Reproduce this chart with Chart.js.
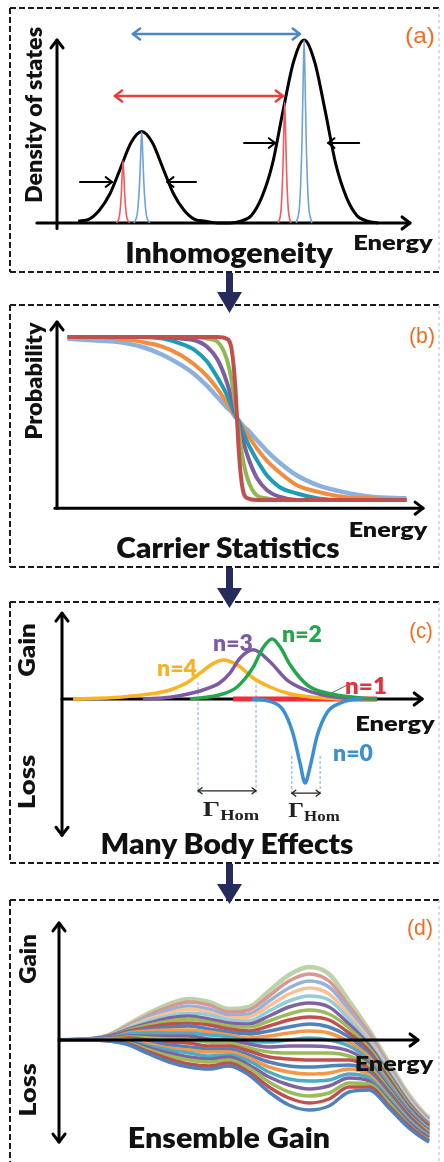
<!DOCTYPE html>
<html>
<head>
<meta charset="utf-8">
<script src="https://cdn.jsdelivr.net/npm/chart.js@4.4.1/dist/chart.umd.min.js"></script>
<style>
  html, body { margin: 0; padding: 0; background: #fff; }
  #page { position: relative; width: 444px; height: 1162px; overflow: hidden; }
  #page canvas { position: absolute; left: 0; }
  .lbl { position: absolute; white-space: nowrap; font-family: Lato, "Noto Sans", sans-serif; font-weight: 800; color: #111; line-height: 1; }
  .tag { font-family: "Liberation Sans", Arial, sans-serif; font-weight: 400; color: #f26b21; }
  .gam { font-family: "Liberation Serif", "DejaVu Serif", serif; font-weight: 700; color: #222; }
  .gam span { font-size: 0.68em; position: relative; top: 0.3em; }
</style>
</head>
<body>
<div id="page">
  <svg width="444" height="1162" style="position:absolute;left:0;top:0">
    <g stroke="#1b1b1b" stroke-width="2" stroke-dasharray="6 3" fill="none">
      <path d="M10 8 H440 M10 8 V272 M10 272 H440"/>
      <path d="M10 305 H440 M10 305 V567 M10 567 H440"/>
      <path d="M10 602 H440 M10 602 V863 M10 863 H440"/>
      <path d="M10 900 H440 M10 900 V1162"/>
    </g>
    <g stroke="#cfcfcf" stroke-width="1.5" stroke-dasharray="3 3" fill="none">
      <path d="M439 8 V272 M439 305 V567 M439 602 V863 M439 900 V1162"/>
    </g>
    <g fill="#262b5b">
      <rect x="226" y="273" width="7" height="21"/><polygon points="217,292 242,292 229.5,313"/>
      <rect x="226" y="568" width="7" height="22"/><polygon points="217,588 242,588 229.5,608"/>
      <rect x="226" y="864" width="7" height="22"/><polygon points="217,884 242,884 229.5,904"/>
    </g>
  </svg>
  <canvas id="chartA" width="444" height="280" style="top:0px"></canvas>
  <canvas id="chartB" width="444" height="280" style="top:290px"></canvas>
  <canvas id="chartC" width="444" height="280" style="top:590px"></canvas>
  <canvas id="chartD" width="444" height="272" style="top:890px"></canvas>
</div>
<script>
// --- (a) density of states ---
const dosX = [0.6, 0.9, 1.2, 1.5, 1.8, 2.1, 2.4, 2.7, 3.0, 3.3, 3.6, 3.9, 4.2, 4.55, 4.9, 5.2, 5.5, 5.8, 6.1, 6.4, 6.7, 7.0, 7.3, 7.6, 7.9, 8.2, 8.5, 8.8, 9.1];
const dosY = [0.01, 0.02, 0.07, 0.16, 0.30, 0.44, 0.50, 0.44, 0.30, 0.16, 0.07, 0.02, 0.01, 0, 0, 0.01, 0.04, 0.14, 0.32, 0.61, 0.88, 1.0, 0.88, 0.61, 0.32, 0.14, 0.04, 0.01, 0];
const redLine1X = [1.69, 1.77, 1.82, 1.845, 1.87, 1.895, 1.92, 1.97, 2.05];
const redLine1Y = [0, 0.04, 0.15, 0.26, 0.34, 0.26, 0.15, 0.04, 0];
const blueLine1X = [2.18, 2.28, 2.34, 2.37, 2.4, 2.43, 2.46, 2.52, 2.62];
const blueLine1Y = [0, 0.06, 0.22, 0.37, 0.5, 0.37, 0.22, 0.06, 0];
const redLine2X = [6.27, 6.35, 6.40, 6.425, 6.45, 6.475, 6.50, 6.55, 6.63];
const redLine2Y = [0, 0.08, 0.3, 0.5, 0.66, 0.5, 0.3, 0.08, 0];
const blueLine2X = [6.78, 6.88, 6.94, 6.97, 7.0, 7.03, 7.06, 7.12, 7.22];
const blueLine2Y = [0, 0.12, 0.45, 0.75, 1.0, 0.75, 0.45, 0.12, 0];

// --- (b) occupation probability ---
const probX = [0.3, 1.0, 1.7, 2.4, 3.0, 3.5, 3.9, 4.25, 4.55, 4.8, 4.95, 5.05, 5.1, 5.15, 5.25, 5.4, 5.65, 5.95, 6.3, 6.8, 7.4, 8.1, 8.9, 9.9];
const probRed    = [1, 1, 1, 1, 1, 1, 1, 1, 1, 0.99, 0.92, 0.70, 0.5, 0.30, 0.08, 0.01, 0, 0, 0, 0, 0, 0, 0, 0];
const probGreen  = [1, 1, 1, 1, 1, 1, 1, 0.99, 0.97, 0.87, 0.73, 0.58, 0.5, 0.42, 0.27, 0.13, 0.03, 0.01, 0, 0, 0, 0, 0, 0];
const probPurple = [1, 1, 1, 1, 1, 0.99, 0.98, 0.94, 0.86, 0.73, 0.62, 0.54, 0.5, 0.46, 0.38, 0.27, 0.14, 0.06, 0.02, 0, 0, 0, 0, 0];
const probTeal   = [1, 1, 1, 1, 0.99, 0.96, 0.92, 0.85, 0.75, 0.65, 0.57, 0.52, 0.5, 0.48, 0.43, 0.35, 0.25, 0.15, 0.08, 0.04, 0.01, 0, 0, 0];
const probOrange = [1, 1, 0.99, 0.97, 0.94, 0.89, 0.83, 0.76, 0.68, 0.60, 0.55, 0.52, 0.5, 0.48, 0.45, 0.40, 0.32, 0.24, 0.17, 0.09, 0.05, 0.02, 0.01, 0];
const probBlue   = [0.99, 0.98, 0.97, 0.94, 0.89, 0.83, 0.77, 0.70, 0.63, 0.57, 0.54, 0.51, 0.5, 0.49, 0.46, 0.43, 0.37, 0.30, 0.23, 0.15, 0.09, 0.05, 0.02, 0.01];

// --- (c) many body gain per carrier number ---
const n4X = [0.31, 1.62, 2.54, 3.02, 3.49, 3.85, 4.22, 4.50, 4.89, 5.34, 5.81, 6.28, 6.73, 7.21, 8.13, 8.80];
const n4Y = [0, 0.03, 0.09, 0.15, 0.27, 0.43, 0.59, 0.65, 0.57, 0.35, 0.20, 0.10, 0.05, 0.02, 0, 0];
const n3X = [2.26, 3.02, 3.49, 3.94, 4.41, 4.69, 4.97, 5.34, 5.81, 6.28, 6.73, 7.21, 7.68, 8.13, 8.80];
const n3Y = [0, 0.03, 0.08, 0.15, 0.27, 0.43, 0.68, 0.82, 0.62, 0.32, 0.17, 0.08, 0.03, 0.01, 0];
const n2X = [3.58, 4.41, 4.89, 5.34, 5.61, 5.87, 6.09, 6.37, 6.65, 6.93, 7.40, 7.96, 8.52, 8.80];
const n2Y = [0, 0.07, 0.20, 0.53, 0.85, 1.0, 0.87, 0.57, 0.35, 0.20, 0.10, 0.04, 0.01, 0];
const n1X = [4.78, 8.80];
const n1Y = [0, 0];
const n0X = [5.31, 5.81, 6.17, 6.45, 6.65, 6.79, 6.93, 7.12, 7.40, 7.77, 8.13, 8.41];
const n0Y = [0, -0.04, -0.18, -0.57, -1.07, -1.40, -1.13, -0.63, -0.23, -0.07, -0.01, 0];

// --- (d) ensemble gain, one row per curve (bottom to top) ---
const ensembleX = [0, 1.5, 2.5, 3.5, 4.5, 5.5, 6.5, 7.5, 8.5, 9.5, 10.5, 11.5, 12.5, 13.5, 14.5, 15.5, 16.5, 17.5, 18.5, 19.2];
const ensembleGain = [
  [0, 0, -1, -5, -14, -22, -27, -29, -26, -35, -52, -65, -70, -66, -52, -50, -68, -88, -102, -107],
  [0, 0, -1, -4, -12, -19, -24, -26, -23, -32, -47, -58, -63, -59, -47, -47, -66, -86, -101, -106],
  [0, 0, 0, -3, -10, -16, -20, -22, -20, -28, -42, -52, -56, -53, -43, -44, -63, -85, -100, -105],
  [0, 0, 0, -2, -8, -13, -17, -19, -17, -25, -37, -45, -49, -46, -38, -41, -61, -83, -98, -104],
  [0, 0, 0, -1, -6, -10, -13, -16, -15, -21, -32, -39, -41, -40, -34, -38, -59, -81, -97, -103],
  [0, 0, 1, 0, -4, -8, -10, -12, -12, -18, -27, -32, -34, -33, -29, -35, -57, -80, -96, -101],
  [0, 0, 1, 1, -2, -5, -7, -9, -9, -15, -22, -26, -27, -26, -25, -32, -54, -78, -95, -100],
  [0, 0, 1, 2, 0, -2, -3, -6, -6, -11, -17, -19, -20, -20, -20, -29, -52, -76, -94, -99],
  [0, 0, 1, 3, 2, 1, 0, -2, -3, -8, -12, -13, -13, -13, -16, -26, -50, -75, -92, -98],
  [0, 0, 2, 4, 4, 4, 4, 1, 0, -4, -7, -6, -6, -7, -11, -23, -48, -73, -91, -97],
  [0, 1, 2, 6, 7, 7, 7, 5, 3, -1, -2, 0, 2, 0, -6, -20, -45, -71, -90, -96],
  [0, 1, 2, 7, 9, 10, 10, 8, 5, 2, 4, 7, 9, 7, -2, -17, -43, -70, -89, -95],
  [0, 1, 3, 8, 11, 13, 14, 11, 8, 6, 9, 13, 16, 13, 3, -14, -41, -68, -88, -94],
  [0, 1, 3, 9, 13, 16, 17, 15, 11, 9, 14, 20, 23, 20, 7, -11, -39, -67, -86, -93],
  [0, 1, 3, 10, 15, 19, 21, 18, 14, 13, 19, 26, 30, 26, 12, -8, -36, -65, -85, -92],
  [0, 1, 4, 11, 17, 22, 24, 21, 17, 16, 24, 33, 37, 33, 16, -5, -34, -63, -84, -90],
  [0, 1, 4, 12, 19, 24, 27, 25, 20, 19, 29, 39, 44, 40, 21, -2, -32, -62, -83, -89],
  [0, 1, 4, 13, 21, 27, 31, 28, 22, 23, 34, 46, 52, 46, 25, 1, -30, -60, -82, -88],
  [0, 1, 4, 14, 23, 30, 34, 31, 25, 26, 39, 52, 59, 53, 30, 4, -27, -58, -80, -87],
  [0, 1, 5, 15, 25, 33, 38, 35, 28, 30, 44, 59, 66, 59, 34, 7, -25, -57, -79, -86],
  [0, 1, 5, 16, 27, 36, 41, 38, 31, 33, 49, 65, 73, 66, 39, 10, -23, -55, -78, -85]
];
const ensembleColors = ["#4f81bd", "#c0504d", "#9bbb59", "#8064a2", "#4bacc6", "#f79646",
                        "#4f81bd", "#c0504d", "#9bbb59", "#8064a2", "#4bacc6", "#f79646",
                        "#4f81bd", "#c0504d", "#9bbb59", "#8064a2", "#93cddd", "#fac090",
                        "#95b3d7", "#d99694", "#bcd3a8"];

// --- helpers ---
const pts = (xs, ys) => xs.map((x, i) => ({ x: x, y: ys[i] }));

function serie(xs, ys, color, width) {
  return {
    data: pts(xs, ys), borderColor: color, borderWidth: width,
    pointRadius: 0, fill: false, clip: false, cubicInterpolationMode: "monotone"
  };
}

function drawArrow(ctx, x1, y1, x2, y2, a) {
  const size = a.size || 8;
  ctx.save();
  ctx.strokeStyle = a.color || "#000";
  ctx.lineWidth = a.width || 2;
  ctx.lineCap = "round";
  ctx.lineJoin = "round";
  ctx.beginPath(); ctx.moveTo(x1, y1); ctx.lineTo(x2, y2); ctx.stroke();
  const ang = Math.atan2(y2 - y1, x2 - x1);
  const head = (x, y, t) => {
    ctx.beginPath();
    ctx.moveTo(x - size * Math.cos(t - 0.65), y - size * Math.sin(t - 0.65));
    ctx.lineTo(x, y);
    ctx.lineTo(x - size * Math.cos(t + 0.65), y - size * Math.sin(t + 0.65));
    ctx.stroke();
  };
  if (a.heads !== "none") head(x2, y2, ang);
  if (a.heads === "both") head(x1, y1, ang + Math.PI);
  ctx.restore();
}

function drawDecor(chart, cfg) {
  const ctx = chart.ctx, sx = chart.scales.x, sy = chart.scales.y;
  const px = p => [sx.getPixelForValue(p[0]), sy.getPixelForValue(p[1])];
  (cfg.dashes || []).forEach(d => {
    const [x, y1] = px([d[0], d[1]]);
    const [, y2] = px([d[0], d[2]]);
    ctx.save();
    ctx.strokeStyle = "#7aa9da"; ctx.lineWidth = 1; ctx.setLineDash([3, 2]);
    ctx.beginPath(); ctx.moveTo(x, y1); ctx.lineTo(x, y2); ctx.stroke();
    ctx.restore();
  });
  (cfg.arrows || []).forEach(a => {
    const [x1, y1] = px(a.from), [x2, y2] = px(a.to);
    drawArrow(ctx, x1, y1, x2, y2, a);
  });
}

function makeDecor(cfg) {
  return {
    id: "decor",
    beforeDatasetsDraw(chart) { if (!cfg.onTop) drawDecor(chart, cfg); },
    afterDatasetsDraw(chart) { if (cfg.onTop) drawDecor(chart, cfg); }
  };
}

function makeChart(id, datasets, pad, xr, yr, decor) {
  return new Chart(document.getElementById(id), {
    type: "line",
    data: { datasets: datasets },
    options: {
      responsive: false, animation: false, events: [],
      layout: { padding: pad },
      plugins: { legend: { display: false }, tooltip: { enabled: false } },
      scales: {
        x: { type: "linear", min: xr[0], max: xr[1], display: false },
        y: { type: "linear", min: yr[0], max: yr[1], display: false }
      }
    },
    plugins: [makeDecor(decor)]
  });
}

const axis = (from, to, heads) => ({ from, to, heads, width: 3, size: 10, color: "#000" });

// --- (a) ---
makeChart("chartA", [
  serie(redLine1X, redLine1Y, "#f25a5c", 1.6),
  serie(blueLine1X, blueLine1Y, "#6fa2d6", 1.6),
  serie(redLine2X, redLine2Y, "#f25a5c", 1.6),
  serie(blueLine2X, blueLine2Y, "#6fa2d6", 1.6),
  serie(dosX, dosY, "#000", 3)
], { left: 57, right: 34, top: 40, bottom: 57 }, [0, 10], [0, 1], {
  arrows: [
    axis([-0.57, 0], [10, 0], "end"),
    axis([0, -0.03], [0, 1.0], "end"),
    { from: [2.15, 1.033], to: [6.88, 1.033], heads: "both", color: "#4a88c7", width: 2.5, size: 9 },
    { from: [1.64, 0.694], to: [6.40, 0.694], heads: "both", color: "#e8403f", width: 2.5, size: 9 },
    { from: [0.65, 0.224], to: [1.56, 0.224], heads: "end", width: 2, size: 8 },
    { from: [3.94, 0.224], to: [3.12, 0.224], heads: "end", width: 2, size: 8 },
    { from: [5.30, 0.437], to: [6.18, 0.437], heads: "end", width: 2, size: 8 },
    { from: [8.56, 0.437], to: [7.68, 0.437], heads: "end", width: 2, size: 8 }
  ]
});

// --- (b) ---
makeChart("chartB", [
  serie(probX, probRed, "#c0504d", 4),
  serie(probX, probGreen, "#8fb752", 4),
  serie(probX, probPurple, "#7b5fa0", 4),
  serie(probX, probTeal, "#1e9db2", 4),
  serie(probX, probOrange, "#f58c3d", 4),
  serie(probX, probBlue, "#8db1dd", 4.5)
], { left: 57, right: 34, top: 47, bottom: 70 }, [0, 10], [0, 1], {
  arrows: [
    axis([-0.06, -0.05], [10.37, -0.05], "end"),
    axis([0, -0.05], [0, 1.092], "end")
  ]
});

// --- (c) ---
makeChart("chartC", [
  serie(n0X, n0Y, "#3b8fd2", 3.5),
  serie(n2X, n2Y, "#22a84b", 3.5),
  serie(n3X, n3Y, "#7c5aa6", 3.5),
  serie(n4X, n4Y, "#f9b41f", 3.5),
  serie(n1X, n1Y, "#ec2f3a", 5)
], { left: 62, right: 24, top: 49, bottom: 171 }, [0, 10], [0, 1], {
  dashes: [[3.80, 0.28, -1.57], [5.42, 0.32, -1.57], [6.42, -0.95, -1.62], [7.21, -0.95, -1.62]],
  arrows: [
    axis([0, 0], [10.06, 0], "end"),
    axis([0, -2.27], [0, 1.43], "both"),
    { from: [3.80, -1.53], to: [5.42, -1.53], heads: "both", width: 1.3, size: 5, color: "#222" },
    { from: [6.42, -1.57], to: [7.21, -1.57], heads: "both", width: 1.3, size: 5, color: "#222" },
    { from: [7.96, 0.23], to: [7.29, 0.03], heads: "none", width: 1, color: "#666" }
  ]
});

// --- (d) ---
makeChart("chartD", ensembleGain.map((row, i) =>
  serie(ensembleX, row, ensembleColors[i], i === ensembleGain.length - 1 ? 4.5 : 3.5)
), { left: 59, right: 25, top: 50, bottom: 122 }, [0, 18], [0, 100], {
  onTop: true,
  arrows: [
    axis([0, 0], [17.95, 0], "end"),
    axis([0, -102], [0, 117], "both")
  ]
});

// --- texts ---
const labels = [
  { html: "(a)", cx: 420, cy: 36, size: 22, len: 30, cls: "tag" },
  { html: "Density of states", cx: 34, cy: 115, size: 22, len: 176, rot: -90 },
  { html: "Energy", cx: 393, cy: 241, size: 21, len: 80 },
  { html: "Inhomogeneity", cx: 229, cy: 251, size: 29, len: 208 },
  { html: "(b)", cx: 422, cy: 336, size: 22, len: 26, cls: "tag" },
  { html: "Probability", cx: 34, cy: 381, size: 22, len: 117, rot: -90 },
  { html: "Energy", cx: 388, cy: 528, size: 21, len: 79 },
  { html: "Carrier Statistics", cx: 228, cy: 547, size: 28, len: 223 },
  { html: "(c)", cx: 421, cy: 631, size: 22, len: 24, cls: "tag" },
  { html: "Gain", cx: 27, cy: 650, size: 22, len: 54, rot: -90 },
  { html: "Loss", cx: 27, cy: 782, size: 22, len: 55, rot: -90 },
  { html: "Energy", cx: 395, cy: 722, size: 21, len: 80 },
  { html: "Many Body Effects", cx: 227, cy: 843, size: 28, len: 253 },
  { html: "n=4", cx: 177, cy: 667, size: 23, len: 40, color: "#f6b21f" },
  { html: "n=3", cx: 233, cy: 642, size: 23, len: 40, color: "#7d5ca6" },
  { html: "n=2", cx: 302, cy: 633, size: 23, len: 40, color: "#22a84b" },
  { html: "n=1", cx: 366, cy: 685, size: 23, len: 42, color: "#e8303a" },
  { html: "n=0", cx: 353, cy: 752, size: 23, len: 40, color: "#3b8fd2" },
  { html: "Γ<span>Hom</span>", cx: 231, cy: 809, size: 21, len: 57, cls: "gam" },
  { html: "Γ<span>Hom</span>", cx: 314, cy: 810, size: 21, len: 52, cls: "gam" },
  { html: "(d)", cx: 420, cy: 928, size: 22, len: 26, cls: "tag" },
  { html: "Gain", cx: 28, cy: 959, size: 22, len: 50, rot: -90 },
  { html: "Loss", cx: 28, cy: 1090, size: 22, len: 54, rot: -90 },
  { html: "Energy", cx: 394, cy: 1062, size: 21, len: 79 },
  { html: "Ensemble Gain", cx: 229, cy: 1137, size: 28, len: 202 }
];

function placeLabels() {
  const page = document.getElementById("page");
  labels.forEach(t => {
    const el = document.createElement("div");
    el.className = "lbl " + (t.cls || "");
    el.innerHTML = t.html;
    el.style.fontSize = t.size + "px";
    if (t.color) el.style.color = t.color;
    page.appendChild(el);
    const s = t.len / el.offsetWidth;
    el.style.left = t.cx + "px";
    el.style.top = t.cy + "px";
    el.style.transform = `translate(-50%, -50%) rotate(${t.rot || 0}deg) scaleX(${s})`;
  });
}

document.fonts.ready.then(placeLabels);
</script>
</body>
</html>
